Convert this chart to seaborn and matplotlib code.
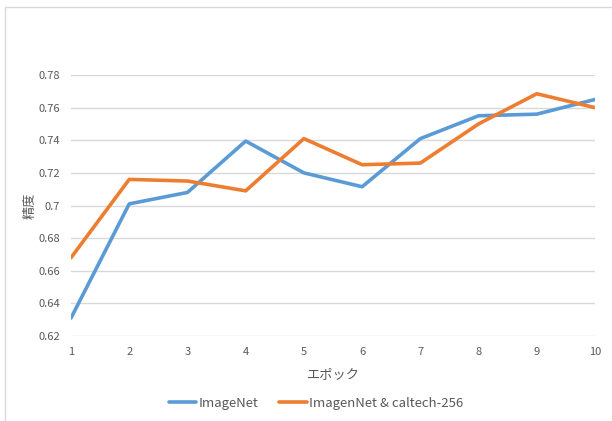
import matplotlib
matplotlib.use("Agg")
import matplotlib.pyplot as plt
from matplotlib.lines import Line2D
import seaborn as sns
import pandas as pd

epochs = [1, 2, 3, 4, 5, 6, 7, 8, 9, 10]
imagenet = [0.631, 0.701, 0.708, 0.7395, 0.720, 0.7115, 0.741, 0.755, 0.756, 0.765]
imagenet_caltech = [0.668, 0.716, 0.715, 0.709, 0.741, 0.725, 0.726, 0.750, 0.7685, 0.760]
series_names = ["ImageNet", "ImagenNet & caltech-256"]
y_ticks = [0.62, 0.64, 0.66, 0.68, 0.70, 0.72, 0.74, 0.76, 0.78]

sns.set_theme(style="white")
plt.rcParams["font.family"] = ["Noto Sans CJK JP", "DejaVu Sans"]

df = pd.DataFrame({
    "epoch": epochs * 2,
    "acc": imagenet + imagenet_caltech,
    "series": [series_names[0]] * len(epochs) + [series_names[1]] * len(epochs),
})

W, H = 612, 421
fig = plt.figure(figsize=(W / 100, H / 100), dpi=100)
ax = fig.add_axes([71 / W, 1 - 336 / H, (595 - 71) / W, (336 - 75) / H])

colors = {series_names[0]: "#5B9BD5", series_names[1]: "#ED7D31"}
sns.lineplot(data=df, x="epoch", y="acc", hue="series", palette=colors,
             linewidth=2.6, ax=ax, legend=False, zorder=3)

ax.set_xlim(1, 10)
ax.set_ylim(0.62, 0.78)
ax.set_yticks(y_ticks)
ax.set_yticklabels([f"{v:g}" for v in y_ticks])
ax.set_xticks(epochs)
ax.yaxis.grid(True, color="#D9D9D9", linewidth=1.0)
ax.xaxis.grid(False)
for s in ax.spines.values():
    s.set_visible(False)
ax.tick_params(axis="both", length=0, labelsize=8, labelcolor="#595959")
ax.tick_params(axis="y", pad=8)
ax.tick_params(axis="x", pad=8)

ax.set_xlabel("エポック", fontsize=9.5, color="#595959", labelpad=8)
ax.set_ylabel("精度", fontsize=9.5, color="#595959", labelpad=1)

handles = [Line2D([0], [0], color=colors[n], linewidth=2.6) for n in series_names]
fig.legend(handles, series_names, loc="center", bbox_to_anchor=(316 / W, 1 - 403 / H),
           ncol=2, frameon=False, fontsize=9.5, handlelength=2.1, columnspacing=1.6,
           handletextpad=0.15, labelcolor="#595959")

# chart frame
fig.add_artist(Line2D([5 / W, 1], [1 - 7 / H, 1 - 7 / H], color="#D9D9D9", linewidth=1.0))
fig.add_artist(Line2D([5 / W, 5 / W], [0, 1 - 7 / H], color="#D9D9D9", linewidth=1.0))

fig.savefig("out.png", dpi=100)
